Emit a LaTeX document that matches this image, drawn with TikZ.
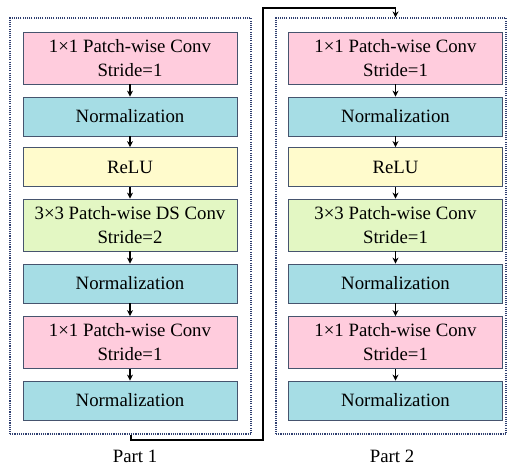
\documentclass[tikz,border=0pt]{standalone}
\usepackage{fontspec}
\setmainfont{Liberation Serif}
\usetikzlibrary{arrows.meta}
\definecolor{cpink}{HTML}{FFCCDD}
\definecolor{cteal}{HTML}{A6DDE5}
\definecolor{cyel}{HTML}{FFFBCC}
\definecolor{cgreen}{HTML}{E3F7C3}
\definecolor{cborder}{HTML}{46546E}
\definecolor{cframe}{HTML}{2F3F70}
\tikzset{
  blk/.style={draw=cborder, line width=0.8pt, minimum width=214pt, inner sep=0pt,
    align=center, font=\fontsize{18.8}{24}\selectfont},
  pinkbox/.style={blk, fill=cpink, minimum height=52pt},
  normbox/.style={blk, fill=cteal, minimum height=39pt},
  relubox/.style={blk, fill=cyel, minimum height=39pt},
  greenbox/.style={blk, fill=cgreen, minimum height=52pt},
  flow/.style={-{Stealth[length=6pt,width=6pt]}, line width=1.6pt, black},
  frame/.style={draw=cframe, line width=1.1pt, dash pattern=on 1.1pt off 1.1pt, fill=none},
  lbl/.style={font=\fontsize{18.8}{24}\selectfont, inner sep=0pt, anchor=base}
}
\begin{document}
\begin{tikzpicture}[x=1pt,y=-1pt]
\useasboundingbox (0,0) rectangle (508,466);
% frames
\node[frame, minimum width=241pt, minimum height=416pt, inner sep=0pt] (f1) at (130.5,226) {};
\node[frame, minimum width=230pt, minimum height=416pt, inner sep=0pt] (f2) at (391,226) {};
% left column
\node[pinkbox] (a1) at (130,58) {1×1 Patch-wise Conv\\Stride=1};
\node[normbox] (a2) at (130,116.5) {Normalization};
\node[relubox] (a3) at (130,167) {ReLU};
\node[greenbox] (a4) at (130,225) {3×3 Patch-wise DS Conv\\Stride=2};
\node[normbox] (a5) at (130,283.5) {Normalization};
\node[pinkbox] (a6) at (130,342.5) {1×1 Patch-wise Conv\\Stride=1};
\node[normbox] (a7) at (130,400.5) {Normalization};
% right column
\node[pinkbox] (b1) at (395.5,58) {1×1 Patch-wise Conv\\Stride=1};
\node[normbox] (b2) at (395.5,116.5) {Normalization};
\node[relubox] (b3) at (395.5,167) {ReLU};
\node[greenbox] (b4) at (395.5,225) {3×3 Patch-wise Conv\\Stride=1};
\node[normbox] (b5) at (395.5,283.5) {Normalization};
\node[pinkbox] (b6) at (395.5,342.5) {1×1 Patch-wise Conv\\Stride=1};
\node[normbox] (b7) at (395.5,400.5) {Normalization};
% arrows
\foreach \u/\v in {a1/a2,a2/a3,a3/a4,a4/a5,a5/a6,a6/a7,b1/b2,b2/b3,b3/b4,b4/b5,b5/b6,b6/b7}
  \draw[flow] (\u.south) -- (\v.north);
% connector
\coordinate (c1) at (131,440);
\coordinate (c2) at (263,8);
\draw[flow] (f1.south -| c1) |- (c1) -| (c2) -| (f2.north -| b1.north);
% labels
\node[lbl] (p1) at (135,462) {Part 1};
\node[lbl] (p2) at (392,462) {Part 2};
\end{tikzpicture}
\end{document}
